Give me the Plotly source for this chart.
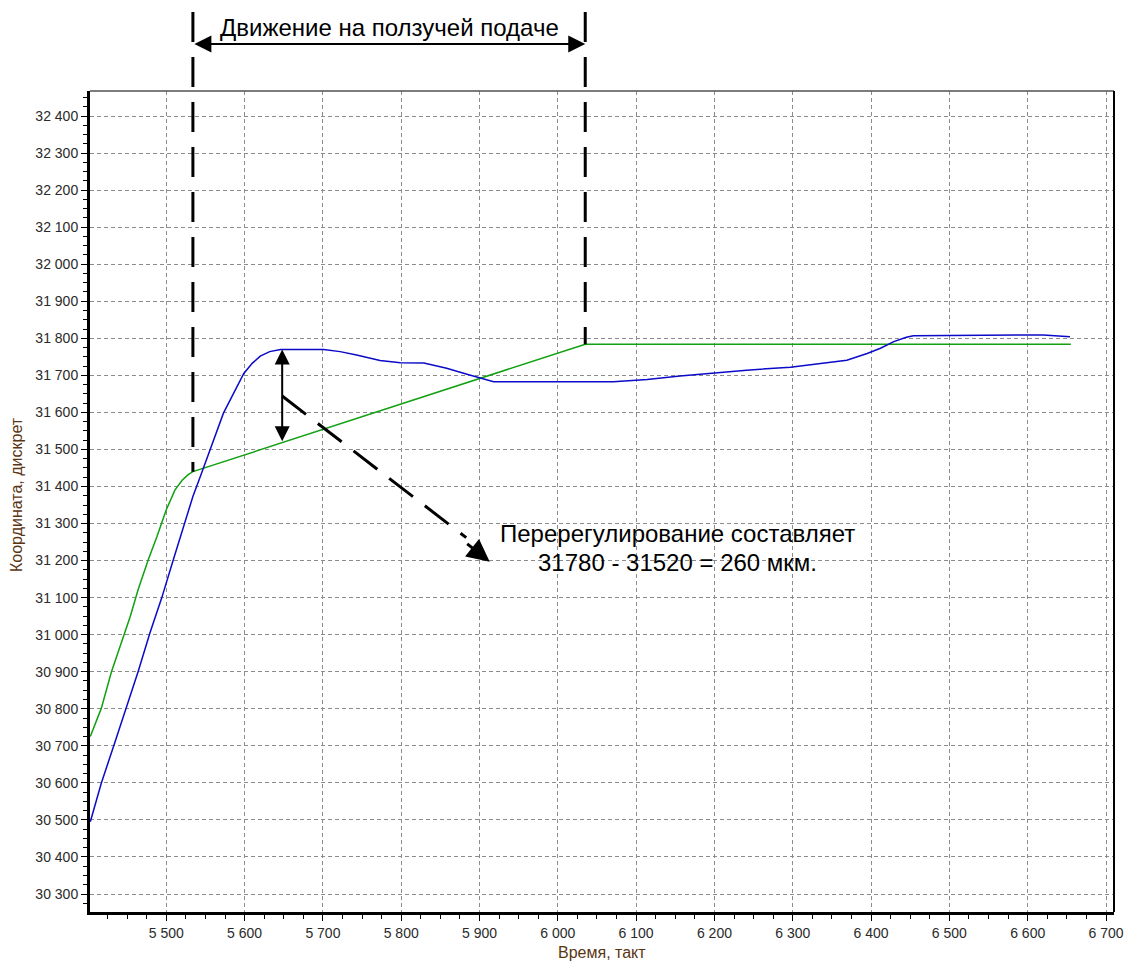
import numpy as np
import plotly.graph_objects as go

# ---------------- data ----------------
GREEN_X = [5403, 5417, 5430, 5443, 5454, 5464, 5477, 5488, 5500, 5511, 5520, 5528, 5534, 6035, 6655]
GREEN_Y = [30725, 30801, 30900, 30981, 31049, 31121, 31202, 31264, 31337, 31390, 31416, 31432, 31440, 31784, 31784]

BLUE_X = [5403, 5417, 5434, 5449, 5464, 5479, 5494, 5509, 5524, 5534, 5545, 5551, 5573, 5599,
          5610, 5620, 5632, 5646, 5701, 5722, 5743, 5773, 5799, 5829, 5858, 5884, 5901, 5918, 6071, 6114,
          6156, 6199, 6241, 6297, 6335, 6369, 6395, 6412, 6429, 6445, 6454, 6620, 6654]
BLUE_Y = [30495, 30599, 30707, 30801, 30900, 31004, 31098, 31202, 31301, 31373, 31436, 31471, 31598, 31705,
          31733, 31752, 31764, 31770, 31770, 31764, 31755, 31740, 31734, 31733, 31719, 31703, 31692, 31683, 31683, 31689,
          31698, 31707, 31714, 31722, 31731, 31741, 31759, 31773, 31791, 31803, 31807, 31809, 31804]

X_TICKS = [5500, 5600, 5700, 5800, 5900, 6000, 6100, 6200, 6300, 6400, 6500, 6600, 6700]
X_LABELS = ["5 500", "5 600", "5 700", "5 800", "5 900", "6 000", "6 100", "6 200", "6 300",
            "6 400", "6 500", "6 600", "6 700"]
Y_TICKS = list(range(30300, 32401, 100))
Y_LABELS = ["%d %03d" % (v // 1000, v % 1000) for v in Y_TICKS]

X_RANGE = [5402.6, 6710.2]
Y_RANGE = [30251.4, 32467.5]

CREEP_START_X = 5534     # start of creep feed (green kink)
CREEP_END_X = 6035       # end of creep feed
OVERSHOOT_X = 5648       # where the overshoot is measured

TITLE_TOP = "Движение на ползучей подаче"
TITLE_OVER_1 = "Перерегулирование составляет"
TITLE_OVER_2 = "31780 - 31520 = 260 мкм."
X_TITLE = "Время, такт"
Y_TITLE = "Координата, дискрет"

# ---------------- layout geometry (page pixels) ----------------
PAGE_W, PAGE_H = 1132, 962
OFF = 8                       # default body margin of the html page
P_LEFT, P_RIGHT, P_TOP, P_BOTTOM = 90, 1114, 91, 912
W, H = PAGE_W - OFF, PAGE_H - OFF
ML, MT = P_LEFT - OFF, P_TOP - OFF
MR, MB = PAGE_W - P_RIGHT, PAGE_H - P_BOTTOM
PW, PH = P_RIGHT - P_LEFT, P_BOTTOM - P_TOP


def ypaper_from_px(py):
    return (P_BOTTOM - py) / PH


def xpaper_from_px(px):
    return (px - P_LEFT) / PW


def ypaper_from_val(v):
    return (v - Y_RANGE[0]) / (Y_RANGE[1] - Y_RANGE[0])


FONT = "Liberation Sans, Arial, sans-serif"
BLUE = "#0a0ac8"
GREEN = "#10a010"
TITLE_COLOR = "#5a3512"

fig = go.Figure()
fig.add_trace(go.Scatter(x=GREEN_X, y=GREEN_Y, mode="lines",
                         line=dict(color=GREEN, width=1.5), showlegend=False))
fig.add_trace(go.Scatter(x=BLUE_X, y=BLUE_Y, mode="lines",
                         line=dict(color=BLUE, width=1.5), showlegend=False))

g_start = float(np.interp(CREEP_START_X, GREEN_X, GREEN_Y))
g_end = float(np.interp(CREEP_END_X, GREEN_X, GREEN_Y))
g_over = float(np.interp(OVERSHOOT_X, GREEN_X, GREEN_Y))
b_over = float(np.interp(OVERSHOOT_X, BLUE_X, BLUE_Y))

shapes = []
top_p = ypaper_from_px(12)
for xv, yv in [(CREEP_START_X, g_start), (CREEP_END_X, g_end)]:
    shapes.append(dict(type="line", xref="x", yref="paper", x0=xv, x1=xv,
                       y0=top_p, y1=ypaper_from_val(yv),
                       line=dict(color="black", width=3, dash="30px,15px")))

# diagonal dashed leader
mid_y = (g_over + b_over) / 2
tip_x, tip_y = 5913, 31197
shapes.append(dict(type="line", xref="x", yref="y", x0=OVERSHOOT_X, y0=mid_y,
                   x1=tip_x - 30, y1=tip_y + 65,
                   line=dict(color="black", width=3, dash="30px,15px")))

# frame: top thin grey, right black
shapes.append(dict(type="line", xref="paper", yref="paper", x0=0, x1=1, y0=1, y1=1,
                   line=dict(color="#505050", width=1.5)))
shapes.append(dict(type="line", xref="paper", yref="paper", x0=1, x1=1, y0=0, y1=1,
                   line=dict(color="black", width=2)))

annotations = []
arrow_p = ypaper_from_px(44)
annotations.append(dict(xref="x", yref="paper", x=CREEP_END_X, y=arrow_p,
                        axref="x", ax=CREEP_START_X, ayref="pixel", ay=0,
                        showarrow=True, arrowside="end+start", arrowhead=2,
                        arrowsize=1.7, arrowwidth=2, arrowcolor="black", text="",
                        standoff=0, startstandoff=0))
annotations.append(dict(xref="x", yref="paper", x=(CREEP_START_X + CREEP_END_X) / 2,
                        y=ypaper_from_px(27), yanchor="middle", text=TITLE_TOP, showarrow=False,
                        font=dict(family=FONT, size=24, color="black")))
annotations.append(dict(xref="x", yref="y", x=OVERSHOOT_X, y=b_over,
                        axref="x", ax=OVERSHOOT_X, ayref="y", ay=g_over,
                        showarrow=True, arrowside="end+start", arrowhead=2,
                        arrowsize=1.5, arrowwidth=2, arrowcolor="black", text="",
                        standoff=0, startstandoff=0))
annotations.append(dict(xref="x", yref="y", x=tip_x, y=tip_y,
                        axref="pixel", ax=-24, ayref="pixel", ay=-19,
                        showarrow=True, arrowhead=2, arrowsize=1.5, arrowwidth=3,
                        arrowcolor="black", text=""))
annotations.append(dict(xref="paper", yref="paper", x=xpaper_from_px(677), y=ypaper_from_px(533),
                        yanchor="middle", text=TITLE_OVER_1, showarrow=False,
                        font=dict(family=FONT, size=24, color="black")))
annotations.append(dict(xref="paper", yref="paper", x=xpaper_from_px(677), y=ypaper_from_px(562),
                        yanchor="middle", text=TITLE_OVER_2, showarrow=False,
                        font=dict(family=FONT, size=24, color="black")))
# axis titles
annotations.append(dict(xref="paper", yref="paper", x=0.5, y=ypaper_from_px(952),
                        yanchor="middle", text=X_TITLE, showarrow=False,
                        font=dict(family=FONT, size=16, color=TITLE_COLOR)))
annotations.append(dict(xref="paper", yref="paper", x=xpaper_from_px(16), y=ypaper_from_px(495),
                        xanchor="center", yanchor="middle", textangle=-90, text=Y_TITLE,
                        showarrow=False, font=dict(family=FONT, size=16, color=TITLE_COLOR)))

grid = dict(showgrid=True, gridcolor="#8c8c8c", gridwidth=1, griddash="4px,3px")
common = dict(ticks="outside", ticklen=6, tickwidth=1, tickcolor="black",
              showline=True, linewidth=3, linecolor="black", zeroline=False,
              automargin=False, tickfont=dict(family=FONT, size=14, color="#2a2a2a"),
              minor=dict(tick0=0, dtick=25, ticks="outside", ticklen=4,
                         tickcolor="black", showgrid=False))

fig.update_layout(
    width=W, height=H,
    margin=dict(l=ML, r=MR, t=MT, b=MB, autoexpand=False),
    paper_bgcolor="white", plot_bgcolor="white",
    font=dict(family=FONT, color="#222"),
    shapes=shapes, annotations=annotations,
    xaxis=dict(range=X_RANGE, tickmode="array", tickvals=X_TICKS, ticktext=X_LABELS,
               **common, **grid),
    yaxis=dict(range=Y_RANGE, tickmode="array", tickvals=Y_TICKS, ticktext=Y_LABELS,
               **common, **grid),
)

fig.write_html("out.html")
